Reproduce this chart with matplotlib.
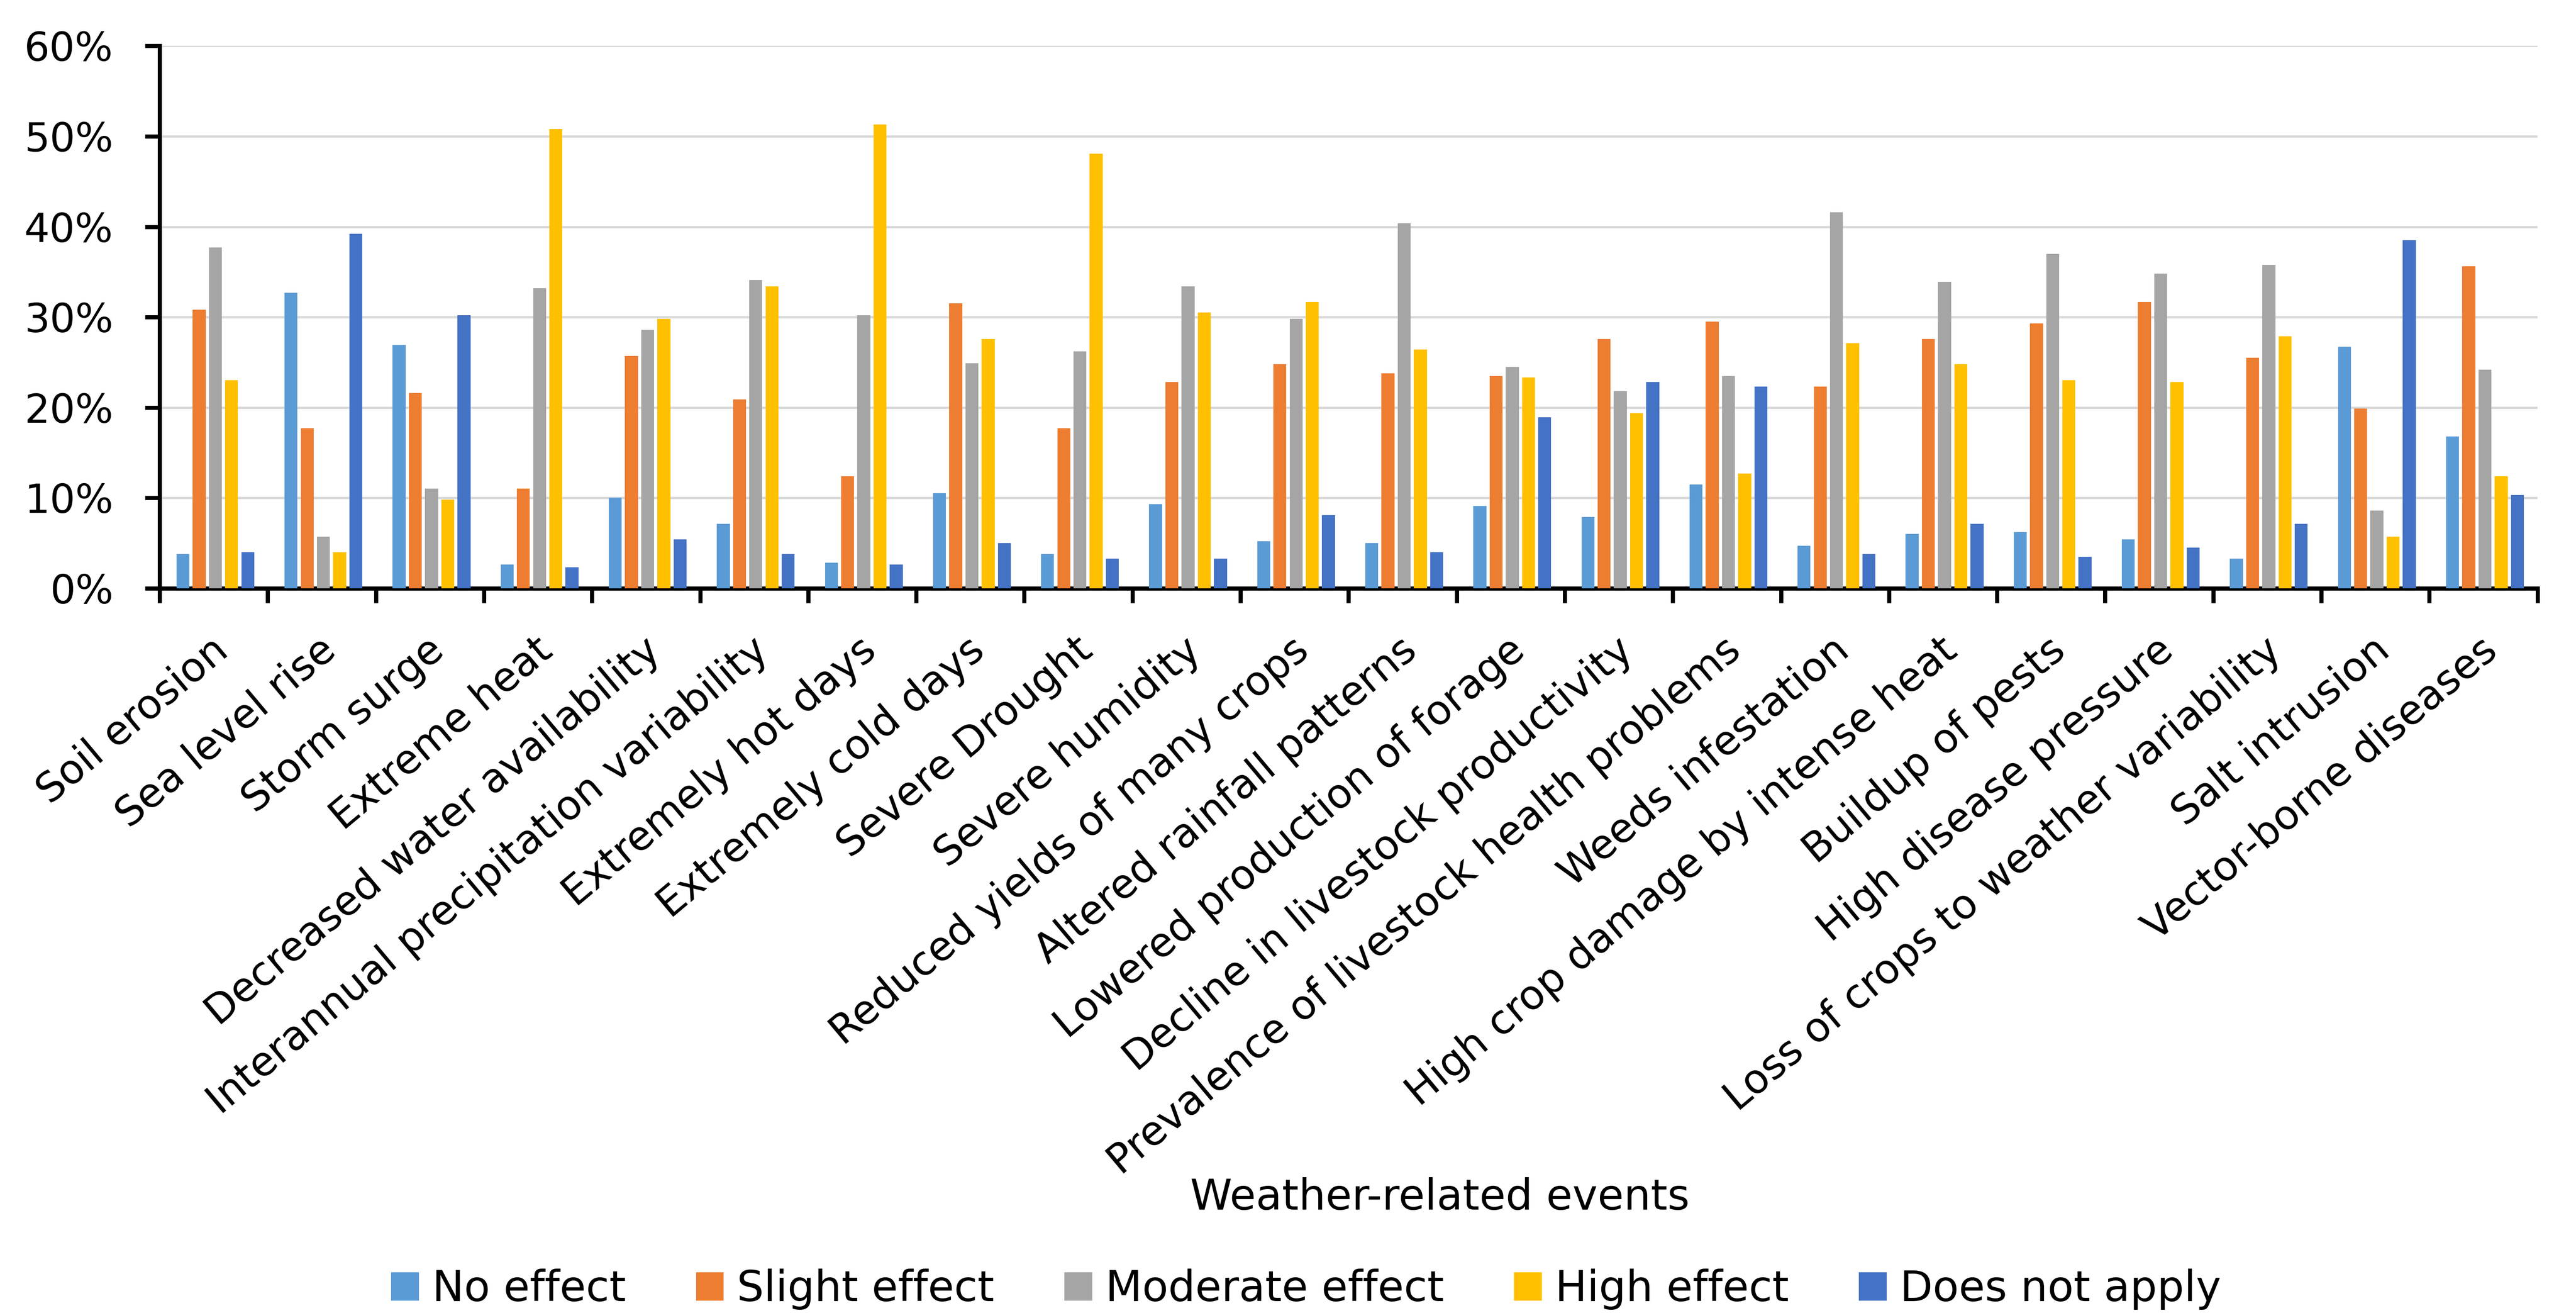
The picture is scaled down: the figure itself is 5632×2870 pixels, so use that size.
import matplotlib
matplotlib.use('Agg')
import matplotlib.pyplot as plt
import matplotlib.transforms as mtransforms
import numpy as np
from matplotlib.patches import Patch

plt.rcParams['font.family'] = ['DejaVu Sans']

# categories on the x axis
eventos = ["Soil erosion", "Sea level rise", "Storm surge", "Extreme heat",
           "Decreased water availability", "Interannual precipitation variability",
           "Extremely hot days", "Extremely cold days", "Severe Drought",
           "Severe humidity", "Reduced yields of many crops", "Altered rainfall patterns",
           "Lowered production of forage", "Decline in livestock productivity",
           "Prevalence of livestock health problems", "Weeds infestation",
           "High crop damage by intense heat", "Buildup of pests", "High disease pressure",
           "Loss of crops to weather variability", "Salt intrusion", "Vector-borne diseases"]

# values in %
no_effect = [3.8, 32.7, 26.9, 2.6, 10.0, 7.1, 2.8, 10.5, 3.8, 9.3, 5.2,
             5.0, 9.1, 7.9, 11.5, 4.7, 6.0, 6.2, 5.4, 3.3, 26.7, 16.8]
slight_effect = [30.8, 17.7, 21.6, 11.0, 25.7, 20.9, 12.4, 31.5, 17.7, 22.8, 24.8,
                 23.8, 23.5, 27.6, 29.5, 22.3, 27.6, 29.3, 31.7, 25.5, 19.9, 35.6]
moderate_effect = [37.7, 5.7, 11.0, 33.2, 28.6, 34.1, 30.2, 24.9, 26.2, 33.4, 29.8,
                   40.4, 24.5, 21.8, 23.5, 41.6, 33.9, 37.0, 34.8, 35.8, 8.6, 24.2]
high_effect = [23.0, 4.0, 9.8, 50.8, 29.8, 33.4, 51.3, 27.6, 48.1, 30.5, 31.7,
               26.4, 23.3, 19.4, 12.7, 27.1, 24.8, 23.0, 22.8, 27.9, 5.7, 12.4]
not_apply = [4.0, 39.2, 30.2, 2.3, 5.4, 3.8, 2.6, 5.0, 3.3, 3.3, 8.1,
             4.0, 18.9, 22.8, 22.3, 3.8, 7.1, 3.5, 4.5, 7.1, 38.5, 10.3]

series_names = ["No effect", "Slight effect", "Moderate effect", "High effect", "Does not apply"]
cores = ["#5B9BD5", "#ED7D31", "#A5A5A5", "#FFC000", "#4472C4"]
series = [no_effect, slight_effect, moderate_effect, high_effect, not_apply]

fig = plt.figure(figsize=(56.32, 28.70), dpi=100)
ax = fig.add_axes([0.062, 0.552, 0.923, 0.413])

x = np.arange(len(eventos))
passo = 0.15
largura = 0.12
for i in range(5):
    ax.bar(x + (i - 2) * passo + 0.015, np.array(series[i]) / 100.0, largura,
           color=cores[i], zorder=3)

ax.set_xlim(-0.5, len(eventos) - 0.5)
ax.set_ylim(0, 0.6)
ax.set_yticks(np.arange(0, 0.61, 0.1))
ax.set_yticklabels([str(v) + "%" for v in range(0, 61, 10)], fontsize=63)
ax.yaxis.grid(True, color="#D9D9D9", linewidth=3.7, zorder=0)
ax.set_axisbelow(True)

for s in ["top", "right"]:
    ax.spines[s].set_visible(False)
for s in ["left", "bottom"]:
    ax.spines[s].set_linewidth(6.5)
    ax.spines[s].set_color("black")

ax.tick_params(axis="y", direction="out", length=23, width=6.5, pad=50)
# tick marks on category boundaries, labels on centers
ax.set_xticks(np.arange(-0.5, len(eventos), 1.0), minor=True)
ax.set_xticks(x)
ax.set_xticklabels(eventos, rotation=40, ha="right", va="center",
                   rotation_mode="anchor", fontsize=64)
ax.tick_params(axis="x", which="major", length=0, pad=90)
ax.tick_params(axis="x", which="minor", direction="out", length=23, width=6.5)
desloc = mtransforms.ScaledTranslation(0.2, 0, fig.dpi_scale_trans)
for lbl in ax.get_xticklabels():
    lbl.set_transform(lbl.get_transform() + desloc)

fig.text(0.559, 0.088, "Weather-related events", fontsize=67, ha="center", va="center")

handles = [Patch(facecolor=cores[i], label=series_names[i]) for i in range(5)]
fig.legend(handles=handles, loc="center", bbox_to_anchor=(0.507, 0.018), ncol=5,
           frameon=False, fontsize=67, handlelength=0.65, handleheight=0.65,
           handletextpad=0.31, columnspacing=1.65, borderaxespad=0, borderpad=0)

fig.savefig("out.png", dpi=100)
